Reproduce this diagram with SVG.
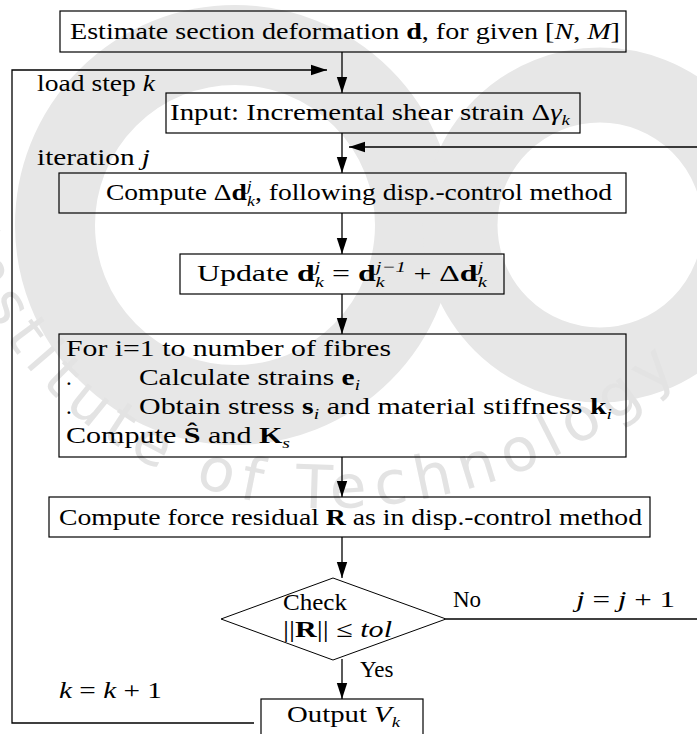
<svg xmlns="http://www.w3.org/2000/svg" width="697" height="734" viewBox="0 0 697 734">
  <defs>
    <marker id="ah" markerWidth="18" markerHeight="12" refX="16" refY="6" orient="auto" markerUnits="userSpaceOnUse">
      <path d="M0,0.8 L16,6 L0,11.2 z" fill="#000"/>
    </marker>
    <path id="wmArc" d="M -50,215 C 0,410 180,515 340,508 S 640,440 760,280"/>
  </defs>
  <style>
    text { font-family: "Liberation Serif", "Times New Roman", serif; font-size: 23px; fill: #000; }
    .b { font-weight: bold; }
    .i { font-style: italic; }
    .s { font-size: 15px; font-style: italic; }
    .box { fill: none; stroke: #000; stroke-width: 1.2; }
    .edge { fill: none; stroke: #000; stroke-width: 1.3; }
    .wm { fill: none; stroke: #e7e7e7; }
    .wmtext { font-family: "DejaVu Sans", sans-serif; font-size: 60px; letter-spacing: 9px; fill: #e3e3e3; }
  </style>

  <rect width="697" height="734" fill="#fff"/>

  <!-- faint background emblem -->
  <g id="emblem">
    <circle class="wm" cx="235" cy="225" r="180" stroke-width="80"/>
    <circle class="wm" cx="600" cy="225" r="140" stroke-width="75"/>
    <text class="wmtext"><textPath href="#wmArc" startOffset="20">Institute of Technology</textPath></text>
  </g>

  <!-- connectors -->
  <g id="connectors">
    <line class="edge" x1="342" y1="52" x2="342" y2="93" marker-end="url(#ah)"/>
    <path class="edge" d="M254,723 H12 V70 H327" marker-end="url(#ah)"/>
    <line class="edge" x1="342" y1="133" x2="342" y2="173" marker-end="url(#ah)"/>
    <line class="edge" x1="697" y1="147" x2="349" y2="147" marker-end="url(#ah)"/>
    <line class="edge" x1="342" y1="213" x2="342" y2="254" marker-end="url(#ah)"/>
    <line class="edge" x1="342" y1="294" x2="342" y2="334" marker-end="url(#ah)"/>
    <line class="edge" x1="342" y1="457" x2="342" y2="497" marker-end="url(#ah)"/>
    <line class="edge" x1="342" y1="537" x2="342" y2="578" marker-end="url(#ah)"/>
    <line class="edge" x1="342" y1="659" x2="342" y2="699" marker-end="url(#ah)"/>
    <line class="edge" x1="446" y1="619" x2="697" y2="619"/>
    <text x="37" y="91" textLength="118" lengthAdjust="spacingAndGlyphs">load step <tspan class="i">k</tspan></text>
    <text x="37" y="165" textLength="113" lengthAdjust="spacingAndGlyphs">iteration <tspan class="i">j</tspan></text>
    <text x="453" y="607">No</text>
    <text x="576" y="607" textLength="99" lengthAdjust="spacingAndGlyphs"><tspan class="i">j</tspan> = <tspan class="i">j</tspan> + 1</text>
    <text x="360" y="677">Yes</text>
    <text x="59" y="698" textLength="103" lengthAdjust="spacingAndGlyphs"><tspan class="i">k</tspan> = <tspan class="i">k</tspan> + 1</text>
  </g>

  <g id="estimate">
    <rect class="box" x="60" y="11" width="566" height="41"/>
    <text x="70" y="39" textLength="550" lengthAdjust="spacingAndGlyphs">Estimate section deformation <tspan class="b">d</tspan>, for given [<tspan class="i">N</tspan>, <tspan class="i">M</tspan>]</text>
  </g>

  <g id="input">
    <rect class="box" x="166" y="93" width="414" height="40"/>
    <text x="170" y="120" textLength="400" lengthAdjust="spacingAndGlyphs">Input: Incremental shear strain Δ<tspan class="i">γ</tspan><tspan class="s" dy="5">k</tspan></text>
  </g>

  <g id="compute-increment">
    <rect class="box" x="59" y="173" width="567" height="40"/>
    <text x="106" y="200" textLength="506" lengthAdjust="spacingAndGlyphs">Compute Δ<tspan class="b">d</tspan><tspan class="s" dy="-9">j</tspan><tspan class="s" dx="-4" dy="15">k</tspan><tspan dy="-6">, following disp.-control method</tspan></text>
  </g>

  <g id="update">
    <rect class="box" x="180" y="254" width="324" height="40"/>
    <text x="197" y="281" textLength="290" lengthAdjust="spacingAndGlyphs">Update <tspan class="b">d</tspan><tspan class="s" dy="-9">j</tspan><tspan class="s" dx="-4" dy="15">k</tspan><tspan dy="-6"> = </tspan><tspan class="b">d</tspan><tspan class="s" dy="-9">j−1</tspan><tspan class="s" dx="-22" dy="15">k</tspan><tspan dx="15" dy="-6"> + Δ</tspan><tspan class="b">d</tspan><tspan class="s" dy="-9">j</tspan><tspan class="s" dx="-4" dy="15">k</tspan></text>
  </g>

  <g id="fibre-loop">
    <rect class="box" x="59" y="334" width="567" height="123"/>
    <text x="66" y="356" textLength="325" lengthAdjust="spacingAndGlyphs">For i=1 to number of fibres</text>
    <text x="66" y="385">.</text>
    <text x="139" y="385" textLength="221" lengthAdjust="spacingAndGlyphs">Calculate strains <tspan class="b">e</tspan><tspan class="s" dy="5">i</tspan></text>
    <text x="66" y="414">.</text>
    <text x="139" y="414" textLength="473" lengthAdjust="spacingAndGlyphs">Obtain stress <tspan class="b">s</tspan><tspan class="s" dy="5">i</tspan><tspan dy="-5"> and material stiffness </tspan><tspan class="b">k</tspan><tspan class="s" dy="5">i</tspan></text>
    <text x="66" y="443" textLength="224" lengthAdjust="spacingAndGlyphs">Compute <tspan class="b">Ŝ</tspan> and <tspan class="b">K</tspan><tspan class="s" dy="5">s</tspan></text>
  </g>

  <g id="residual">
    <rect class="box" x="49" y="497" width="601" height="40"/>
    <text x="59" y="525" textLength="583" lengthAdjust="spacingAndGlyphs">Compute force residual <tspan class="b">R</tspan> as in disp.-control method</text>
  </g>

  <g id="check">
    <polygon points="333,578 446,619 333,660 221,619" fill="none" stroke="#000" stroke-width="1"/>
    <text x="283" y="610" textLength="64" lengthAdjust="spacingAndGlyphs">Check</text>
    <text x="283" y="637" textLength="109" lengthAdjust="spacingAndGlyphs">||<tspan class="b">R</tspan>|| ≤ <tspan class="i">tol</tspan></text>
  </g>

  <g id="output">
    <rect class="box" x="261" y="699" width="162" height="50"/>
    <text x="287" y="722" textLength="113" lengthAdjust="spacingAndGlyphs">Output <tspan class="i">V</tspan><tspan class="s" dy="5">k</tspan></text>
  </g>
</svg>
